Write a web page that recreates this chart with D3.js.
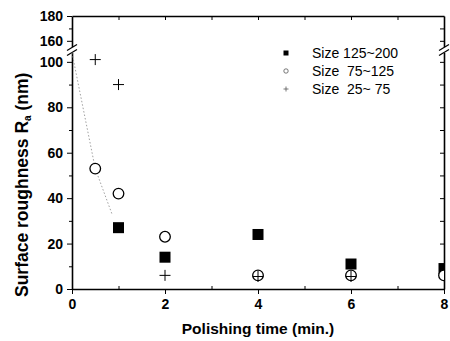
<!DOCTYPE html>
<html lang="en">
<head>
<meta charset="UTF-8">
<title>Surface roughness vs polishing time</title>
<script src="https://d3js.org/d3.v7.min.js"></script>
<style>
  body { margin: 0; background: #fff; }
  text { font-family: Arial, "Liberation Sans", sans-serif; fill: #000; }
  .tick text { font-size: 14px; font-weight: bold; }
  .axis path, .axis line { stroke: #000; }
</style>
</head>
<body>
<svg id="chart" width="450" height="341"></svg>
<script>
// data
const times = [0.5, 1, 2, 4, 6, 8];
const size125to200 = [null, 27, 14, 24, 11, 9];
const size75to125 = [53, 42, 23, 6, 6, 6];
const size25to75 = [101, 90, 6, 5.5, 5.5, null];
const fitLine = [[0, 104], [0.5, 53], [0.86, 33]];
const seriesNames = ["Size 125~200", "Size  75~125", "Size  25~ 75"];
const xTicks = [0, 2, 4, 6, 8];
const xMinor = [1, 3, 5, 7];
const yTicks = [0, 20, 40, 60, 80, 100, 160, 180];
const yMinor = [10, 30, 50, 70, 90, 170];

const svg = d3.select("#chart");
const plotL = 72, plotR = 444, plotT = 16, plotB = 289;

const x = d3.scaleLinear().domain([0, 8]).range([plotL, plotR]);
// broken y axis: lower part 0..105, upper part 153..180
const y = d3.scaleLinear()
  .domain([0, 105, 153, 180])
  .range([plotB, 50.5, 49.5, plotT]);

// clip for the markers
svg.append("clipPath").attr("id", "plot")
  .append("rect").attr("x", plotL).attr("y", plotT)
  .attr("width", plotR - plotL).attr("height", plotB - plotT);

// axes
svg.append("g").attr("class", "axis")
  .attr("transform", `translate(0,${plotB})`)
  .call(d3.axisBottom(x).tickValues(xTicks).tickSize(5).tickPadding(5).tickSizeOuter(0));
svg.append("g").attr("class", "axis")
  .attr("transform", `translate(0,${plotB})`)
  .call(d3.axisTop(x).tickValues(xMinor).tickSize(3).tickFormat(""))
  .select(".domain").remove();

svg.append("g").attr("class", "axis")
  .attr("transform", `translate(${plotL},0)`)
  .call(d3.axisLeft(y).tickValues(yTicks).tickSize(5).tickPadding(4).tickSizeOuter(0));
svg.append("g").attr("class", "axis")
  .attr("transform", `translate(${plotL},0)`)
  .call(d3.axisLeft(y).tickValues(yMinor).tickSize(3).tickFormat(""))
  .select(".domain").remove();

// top and right frame with inward ticks
svg.append("g").attr("class", "axis")
  .attr("transform", `translate(0,${plotT})`)
  .call(d3.axisBottom(x).tickValues(d3.range(1, 8)).tickSize(4).tickFormat("").tickSizeOuter(0));
svg.append("g").attr("class", "axis")
  .attr("transform", `translate(${plotR},0)`)
  .call(d3.axisLeft(y).tickValues(yTicks.concat(yMinor)).tickSize(4).tickFormat("").tickSizeOuter(0));

svg.selectAll(".axis path.domain").attr("stroke-width", 1.6);

// axis break marks
[plotL, plotR].forEach(px => {
  const yb = y(129);
  svg.append("rect").attr("x", px - 5).attr("y", yb - 3).attr("width", 10).attr("height", 6).attr("fill", "#fff");
  [-2.5, 2.5].forEach(dy => {
    svg.append("line")
      .attr("x1", px - 5).attr("y1", yb + dy + 3)
      .attr("x2", px + 5).attr("y2", yb + dy - 3)
      .attr("stroke", "#000").attr("stroke-width", 1.2);
  });
});

// fitted curve (dotted)
svg.append("path")
  .datum(fitLine)
  .attr("fill", "none")
  .attr("stroke", "#888")
  .attr("stroke-width", 0.8)
  .attr("stroke-dasharray", "1.5,2")
  .attr("d", d3.line().x(d => x(d[0])).y(d => y(d[1])));

const marks = svg.append("g").attr("clip-path", "url(#plot)");
const pts = arr => times.map((t, i) => ({ t, v: arr[i] })).filter(d => d.v != null);

marks.selectAll(".sq").data(pts(size125to200)).enter().append("rect")
  .attr("x", d => x(d.t) - 5.5).attr("y", d => y(d.v) - 5.5)
  .attr("width", 11).attr("height", 11).attr("fill", "#000");

marks.selectAll(".ci").data(pts(size75to125)).enter().append("circle")
  .attr("cx", d => x(d.t)).attr("cy", d => y(d.v)).attr("r", 5.3)
  .attr("fill", "#fff").attr("stroke", "#000").attr("stroke-width", 1.3);

const plus = sel => {
  sel.append("line").attr("x1", -5.5).attr("x2", 5.5).attr("y1", 0).attr("y2", 0);
  sel.append("line").attr("x1", 0).attr("x2", 0).attr("y1", -5.5).attr("y2", 5.5);
};
marks.selectAll(".pl").data(pts(size25to75)).enter().append("g")
  .attr("transform", d => `translate(${x(d.t)},${y(d.v)})`)
  .attr("stroke", "#000").attr("stroke-width", 1)
  .call(plus);

// legend
const legend = svg.append("g").attr("transform", "translate(286,53)");
seriesNames.forEach((name, i) => {
  const row = legend.append("g").attr("transform", `translate(0,${i * 18})`);
  if (i === 0) row.append("rect").attr("x", -2.5).attr("y", -2.5).attr("width", 5).attr("height", 5).attr("fill", "#000");
  if (i === 1) row.append("circle").attr("r", 2.2).attr("fill", "none").attr("stroke", "#555").attr("stroke-width", 0.8);
  if (i === 2) {
    row.append("line").attr("x1", -2.5).attr("x2", 2.5).attr("stroke", "#555").attr("stroke-width", 0.8);
    row.append("line").attr("y1", -2.5).attr("y2", 2.5).attr("stroke", "#555").attr("stroke-width", 0.8);
  }
  row.append("text").attr("x", 26).attr("y", 5)
    .attr("font-size", 14).attr("xml:space", "preserve")
    .style("white-space", "pre").text(name);
});

// axis titles
svg.append("text")
  .attr("x", x(4)).attr("y", 334)
  .attr("text-anchor", "middle")
  .attr("font-size", 15.5).attr("font-weight", "bold")
  .text("Polishing time (min.)");

const yTitle = svg.append("text")
  .attr("transform", "translate(28,297) rotate(-90)")
  .attr("text-anchor", "start")
  .attr("font-size", 17.5).attr("font-weight", "bold");
yTitle.append("tspan").text("Surface roughness  R");
yTitle.append("tspan").attr("font-size", 10).attr("dy", 3).text("a");
yTitle.append("tspan").attr("dy", -3).text("  (nm)");
</script>
</body>
</html>
